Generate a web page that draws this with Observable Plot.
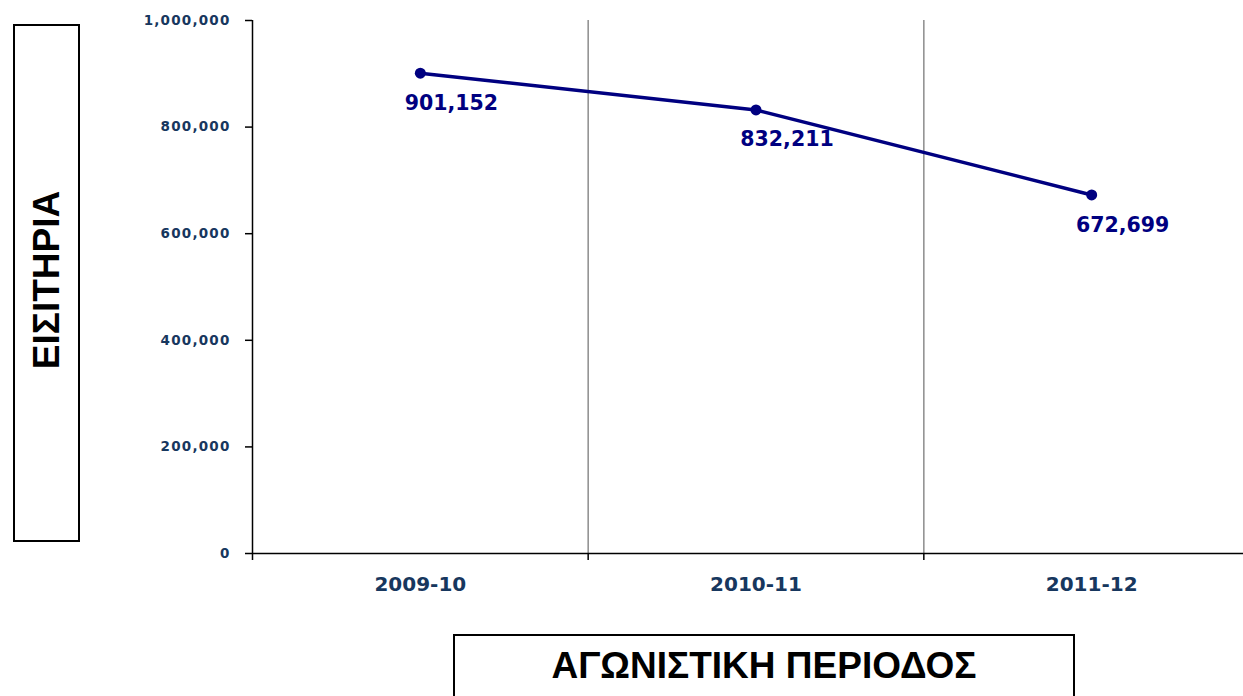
<!DOCTYPE html>
<html>
<head>
<meta charset="utf-8">
<script src="https://cdn.jsdelivr.net/npm/d3@7"></script>
<script src="https://cdn.jsdelivr.net/npm/@observablehq/plot@0.6"></script>
<style>
  html, body { margin: 0; padding: 0; overflow: hidden; background: #fff; width: 1243px; height: 696px; }
  #wrap { position: relative; width: 1243px; height: 696px; overflow: hidden; }
  #chart { position: absolute; left: 0; top: 0; width: 1260px; }
  #chart svg { max-width: none !important; width: 1260px !important; height: 620px !important; }
  #chart g[aria-label="y-axis tick label"] text { letter-spacing: 1.2px; }
  .box { position: absolute; border: 2px solid #000; box-sizing: border-box; background: #fff;
         font-family: "Liberation Sans", Arial, sans-serif; font-weight: bold; color: #000; }
  #ybox { left: 13px; top: 24px; width: 67px; height: 518px; }
  #ybox span { position: absolute; left: 50%; top: 50%; transform: translate(-50%, -50%) rotate(-90deg);
               margin-top: -3px; font-size: 37px; white-space: nowrap; }
  #xbox { left: 453px; top: 634px; width: 622px; height: 80px; }
  #xbox span { position: absolute; left: 0; right: 0; top: 9px; text-align: center; font-size: 37px; white-space: nowrap; }
</style>
</head>
<body>
<div id="wrap">
  <div id="chart"></div>
  <div class="box" id="ybox"><span>ΕΙΣΙΤΗΡΙΑ</span></div>
  <div class="box" id="xbox"><span>ΑΓΩΝΙΣΤΙΚΗ ΠΕΡΙΟΔΟΣ</span></div>
</div>
<script>
const seasons = ["2009-10", "2010-11", "2011-12"];
const tickets = [901152, 832211, 672699];
const yTicks = [0, 200000, 400000, 600000, 800000, 1000000];

const data = seasons.map((s, i) => ({ i, season: s, value: tickets[i] }));
const bounds = [-0.5, 0.5, 1.5, 2.5];
const fmt = d3.format(",");

const plot = Plot.plot({
  width: 1260,
  height: 620,
  marginLeft: 252,
  marginRight: 1,
  marginTop: 20,
  marginBottom: 67,
  style: { background: "transparent", overflow: "visible" },
  x: { domain: [-0.5, 2.5] },
  y: { domain: [0, 1000000] },
  marks: [
    Plot.ruleX([0.5, 1.5], { y1: 0, y2: 1000000, stroke: "#8c8c8c", strokeWidth: 1.5 }),
    Plot.axisY({
      ticks: yTicks, tickSize: 7, tickPadding: 15, tickFormat: fmt,
      fill: "#17375e", fontSize: 13.5, fontWeight: "bold", fontFamily: "DejaVu Sans, Verdana, sans-serif",
      stroke: "#000", strokeWidth: 1.5, label: null
    }),
    Plot.axisX({
      ticks: [0, 1, 2], tickSize: 0, tickPadding: 23, tickFormat: (d) => seasons[d],
      fill: "#17375e", fontSize: 20, fontWeight: "bold", fontFamily: "DejaVu Sans, Verdana, sans-serif",
      label: null
    }),
    Plot.axisX({ ticks: bounds, tickSize: 7, tickFormat: () => "", stroke: "#000", strokeWidth: 1.5, label: null }),
    Plot.ruleX([-0.5], { y1: 0, y2: 1000000, stroke: "#000", strokeWidth: 1.5 }),
    Plot.ruleY([0], { stroke: "#000", strokeWidth: 1.5 }),
    Plot.line(data, { x: "i", y: "value", stroke: "#000080", strokeWidth: 3.5 }),
    Plot.dot(data, { x: "i", y: "value", r: 5.5, fill: "#000080", stroke: "none" }),
    Plot.text(data, {
      x: "i", y: "value", text: (d) => fmt(d.value), dx: 31, dy: 30,
      fill: "#000080", fontSize: 20.5, fontWeight: "bold", fontFamily: "DejaVu Sans, Verdana, sans-serif"
    })
  ]
});
document.getElementById("chart").appendChild(plot);
</script>
</body>
</html>
